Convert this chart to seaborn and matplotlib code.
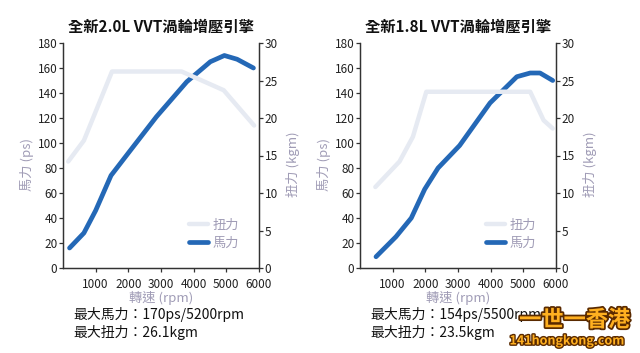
import seaborn as sns
import matplotlib.pyplot as plt
import matplotlib.patheffects as pe
import pandas as pd

# 2.0L engine
rpm_hp_20 = [200, 640, 1000, 1470, 2030, 2860, 3790, 4510, 4940, 5330, 5830]
hp_20 = [16, 28, 46, 74, 93, 121, 149, 165, 170, 167, 160]
rpm_tq_20 = [160, 640, 1500, 3630, 4920, 5850]
tq_20 = [14.2, 17.0, 26.2, 26.2, 23.7, 19.0]

# 1.8L engine
rpm_hp_18 = [490, 1100, 1570, 1980, 2390, 3050, 3980, 4800, 5210, 5510, 5900]
hp_18 = [9, 25, 40, 63, 80, 98, 132, 153, 156, 156, 150]
rpm_tq_18 = [470, 1210, 1620, 2030, 5210, 5620, 5900]
tq_18 = [10.8, 14.2, 17.5, 23.5, 23.5, 19.7, 18.6]

titles = ['全新2.0L VVT渦輪增壓引擎', '全新1.8L VVT渦輪增壓引擎']
notes = [['最大馬力：170ps/5200rpm', '最大扭力：26.1kgm'],
         ['最大馬力：154ps/5500rpm', '最大扭力：23.5kgm']]

sns.set_style('ticks')
plt.rcParams['font.family'] = ['Noto Sans CJK TC', 'DejaVu Sans']

blue = '#2468b6'
light = '#e6eaf2'
label_c = '#a09cb6'
spine_c = '#333333'

fig = plt.figure(figsize=(6.4, 3.53), dpi=100)

engines = [(rpm_hp_20, hp_20, rpm_tq_20, tq_20), (rpm_hp_18, hp_18, rpm_tq_18, tq_18)]
lefts = [63 / 640, 360 / 640]

for i, (rh, hp, rt, tq) in enumerate(engines):
    ax = fig.add_axes([lefts[i], 85 / 353, 196 / 640, 225 / 353])
    ax2 = ax.twinx()
    df_hp = pd.DataFrame({'rpm': rh, 'hp': hp})
    df_tq = pd.DataFrame({'rpm': rt, 'tq': tq})
    sns.lineplot(data=df_hp, x='rpm', y='hp', ax=ax, color=blue, lw=3.4,
                 sort=False, solid_capstyle='round', label='馬力', legend=False)
    sns.lineplot(data=df_tq, x='rpm', y='tq', ax=ax2, color=light, lw=3.2,
                 sort=False, solid_capstyle='round', label='扭力', legend=False)

    ax.set_xlim(0, 6000)
    ax.set_ylim(0, 180)
    ax2.set_ylim(0, 30)
    ax.set_xticks(range(1000, 7000, 1000))
    ax.set_yticks(range(0, 200, 20))
    ax2.set_yticks(range(0, 35, 5))

    for a in (ax, ax2):
        for s in ['left', 'right', 'bottom']:
            a.spines[s].set_color(spine_c)
            a.spines[s].set_linewidth(0.9)
        a.spines['top'].set_visible(False)
        a.tick_params(length=3, width=0.9, color=spine_c, labelsize=8.5,
                      labelcolor='#222222', pad=1)
    ax.tick_params(axis='x', pad=4)

    ax.set_xlabel('轉速 (rpm)', color=label_c, fontsize=9.5, labelpad=0)
    ax.set_ylabel('馬力 (ps)', color=label_c, fontsize=9.5)
    ax2.set_ylabel('扭力 (kgm)', color=label_c, fontsize=9.5)
    ax.yaxis.set_label_coords(-0.15, 0.46)
    ax2.yaxis.set_label_coords(1.14, 0.46)

    h1 = ax.get_lines()[0]
    h2 = ax2.get_lines()[0]
    ax2.legend([h2, h1], ['扭力', '馬力'], frameon=False, loc='lower right',
               bbox_to_anchor=(0.96, 0.03), fontsize=9.5, labelcolor=label_c,
               handlelength=1.4, handletextpad=0.4, labelspacing=0.35)

    ax.set_title(titles[i], fontsize=11, fontweight='bold', color='#111111', pad=8)

    x0 = lefts[i] + 10 / 640
    fig.text(x0, 1 - 315 / 353, notes[i][0], fontsize=10, va='center', color='#111111')
    fig.text(x0, 1 - 332 / 353, notes[i][1], fontsize=10, va='center', color='#111111')

# watermark
fig.text(0.985, 1 - 320 / 353, '一世一香港', fontsize=16, fontweight='bold', ha='right',
         va='center', color='#ffb020',
         path_effects=[pe.withStroke(linewidth=2.5, foreground='#5a2a00')])
fig.text(0.975, 1 - 341 / 353, '141hongkong.com', fontsize=9, fontweight='bold', ha='right',
         va='center', color='#ffb020',
         path_effects=[pe.withStroke(linewidth=2, foreground='#5a2a00')])

plt.savefig('out.png', dpi=100)
